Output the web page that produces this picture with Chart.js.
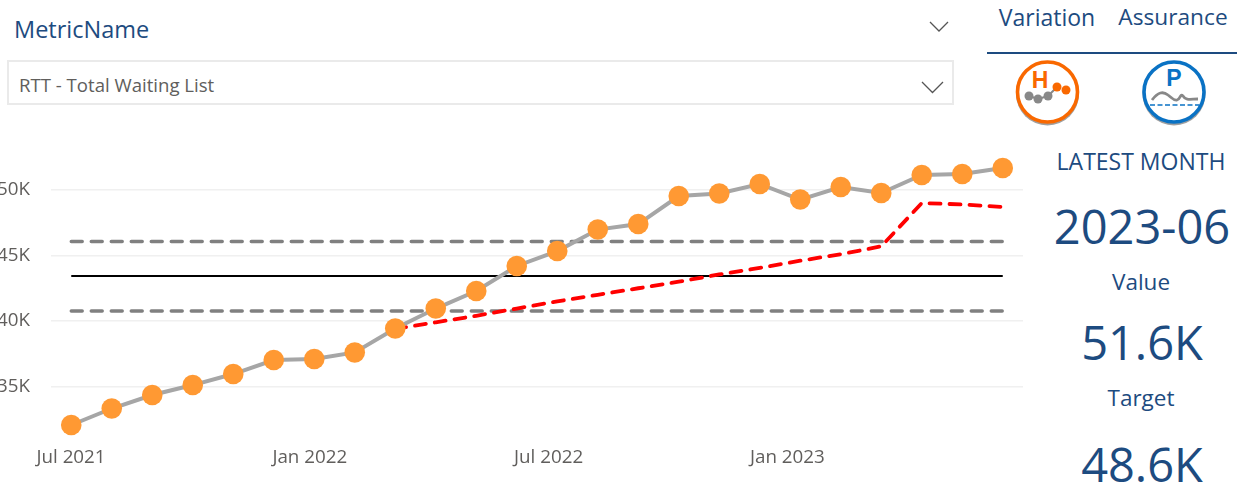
<!DOCTYPE html>
<html><head><meta charset="utf-8">
<script src="https://cdn.jsdelivr.net/npm/chart.js@4"></script>
<style>
html,body{margin:0;padding:0;background:#fff;overflow:hidden;width:1237px;height:493px}
body{position:relative;font-family:"Open Sans",sans-serif}
.t{position:absolute;white-space:nowrap;color:#1D4B80;line-height:1}
.c{transform:translateX(-50%)}
#box{position:absolute;left:7px;top:60px;width:943px;height:41px;border:2px solid #EAEAEA;box-sizing:content-box}
#wrap{position:absolute;left:-20px;top:130px;width:1043px;height:340px}
svg{position:absolute;overflow:visible}
</style></head><body>
<div class="t" style="left:14px;top:18px;font-size:23.5px">MetricName</div>
<svg style="left:929px;top:21px" width="20" height="12"><path d="M1 1L10 10L19 1" fill="none" stroke="#555" stroke-width="1.3"/></svg>
<div id="box"></div>
<div class="t" style="left:19px;top:76px;font-size:18.6px;color:#605E5C">RTT - Total Waiting List</div>
<svg style="left:921px;top:81px" width="23" height="13"><path d="M1 1L11.5 11.5L22 1" fill="none" stroke="#555" stroke-width="1.3"/></svg>
<div class="t c" style="left:1047px;top:6px;font-size:23px">Variation</div>
<div class="t c" style="left:1173px;top:6px;font-size:22.7px">Assurance</div>
<div style="position:absolute;left:987px;top:51.5px;width:250px;height:2px;background:#1D4B80"></div>
<svg style="left:1012px;top:58px" width="70" height="70" viewBox="0 0 70 70">
<circle cx="35.500" cy="36" r="31.500" fill="#a0a0a0"/><circle cx="35.500" cy="34" r="30" fill="#fff" stroke="#F96800" stroke-width="3.600"/>
<text x="28" y="30" font-family="Liberation Sans" font-weight="700" font-size="23" fill="#F96800" text-anchor="middle">H</text>
<polyline points="17,38 26,41 36,38 45,29" fill="none" stroke="#888" stroke-width="2"/>
<circle cx="17" cy="38" r="4.500" fill="#888"/><circle cx="26" cy="41" r="4.500" fill="#888"/><circle cx="36" cy="38" r="4.500" fill="#888"/>
<circle cx="45" cy="29" r="4.500" fill="#F96800"/><circle cx="54" cy="32" r="4.500" fill="#F96800"/></svg>
<svg style="left:1139px;top:58px" width="70" height="70" viewBox="0 0 70 70">
<circle cx="35" cy="36" r="31.500" fill="#a0a0a0"/><circle cx="35" cy="34" r="30" fill="#fff" stroke="#0A72C4" stroke-width="3.600"/>
<text x="35" y="28" font-family="Liberation Sans" font-weight="700" font-size="23" fill="#0A72C4" text-anchor="middle">P</text>
<path d="M13 42C19 34 24 33 29 37C33 40 35 43 38 42C42 41 41 35 44 38C47 43 52 41 59 41" fill="none" stroke="#888" stroke-width="2.800"/>
<line x1="11" x2="60" y1="47" y2="47" stroke="#0A72C4" stroke-width="1.600" stroke-dasharray="5 2.500"/></svg>
<div id="wrap"><canvas id="chart" width="1043" height="340"></canvas></div>
<div class="t c" style="left:1141px;top:150px;font-size:23px">LATEST MONTH</div>
<div class="t c" style="left:1142px;top:203px;font-size:47px">2023-06</div>
<div class="t c" style="left:1141px;top:271px;font-size:22.5px">Value</div>
<div class="t c" style="left:1142px;top:319px;font-size:47px">51.6K</div>
<div class="t c" style="left:1141px;top:387px;font-size:22.5px">Target</div>
<div class="t c" style="left:1142px;top:441px;font-size:47px">48.6K</div>
<script>
const categories = ["2021-07","2021-08","2021-09","2021-10","2021-11","2021-12","2022-01","2022-02","2022-03","2022-04","2022-05","2022-06","2022-07","2022-08","2022-09","2022-10","2022-11","2022-12","2023-01","2023-02","2023-03","2023-04","2023-05","2023-06"];
const actual = [32.06,33.32,34.35,35.11,35.95,37.02,37.10,37.60,39.43,40.95,42.29,44.20,45.34,46.98,47.40,49.54,49.73,50.46,49.27,50.23,49.77,51.15,51.22,51.68];
const target = [null,null,null,null,null,null,null,null,39.40,39.90,40.40,40.95,41.50,42.00,42.50,43.00,43.55,44.05,44.60,45.10,45.70,49.00,48.90,48.70];
const upperLimit = Array(24).fill(46.07);
const meanLine = Array(24).fill(43.43);
const lowerLimit = Array(24).fill(40.76);
const yTickValues = [35,40,45,50];
const xTickLabels = ["Jul 2021","Jan 2022","Jul 2022","Jan 2023"];
const xTickPositions = [0,6,12,18];

const tickFont = {family:'"Open Sans",sans-serif',size:18.8};
const ctrl = (label,data) => ({label,data,borderColor:'#808080',borderWidth:3.4,borderDash:[11,9],borderCapStyle:'round',pointRadius:0,order:3,clip:false});
new Chart(document.getElementById('chart'),{
  type:'line',
  data:{labels:categories,datasets:[
    {label:'Value',data:actual,borderColor:'#A6A6A6',borderWidth:4,pointRadius:10.3,pointHoverRadius:10.3,pointBackgroundColor:'#FF9933',pointBorderWidth:0,tension:0,order:1,clip:false},
    {label:'Target',data:target,borderColor:'#FF0000',borderWidth:3.8,borderDash:[11,9],borderCapStyle:'round',pointRadius:0,tension:0,order:2,clip:false},
    ctrl('Upper',upperLimit),
    {label:'Mean',data:meanLine,borderColor:'#000000',borderWidth:2,pointRadius:0,order:3,clip:false},
    ctrl('Lower',lowerLimit)
  ]},
  options:{
    responsive:false,animation:false,
    layout:{autoPadding:false,padding:{top:20.7,left:0,right:0,bottom:0}},
    plugins:{legend:{display:false},tooltip:{enabled:false}},
    scales:{
      x:{type:'category',offset:true,display:false},
      xLabels:{type:'linear',position:'bottom',min:-0.503,max:23.92,
        grid:{display:false},border:{display:false},
        afterBuildTicks:s=>{s.ticks=xTickPositions.map(v=>({value:v}));},
        afterFit:s=>{s.height=31.1;},
        ticks:{autoSkip:false,maxRotation:0,padding:-1,color:'#605E5C',font:tickFont,
          callback:v=>xTickLabels[xTickPositions.indexOf(v)]}},
      y:{min:31,max:53,
        grid:{color:'#F0F0F0',lineWidth:1.6,drawTicks:false},border:{display:false},
        afterBuildTicks:s=>{s.ticks=yTickValues.map(v=>({value:v}));},
        afterFit:s=>{s.width=71;s.paddingTop=0;s.paddingBottom=0;},
        ticks:{padding:21,color:'#605E5C',font:tickFont,callback:v=>v+'K'}}
    }
  }
});
</script>
</body></html>
